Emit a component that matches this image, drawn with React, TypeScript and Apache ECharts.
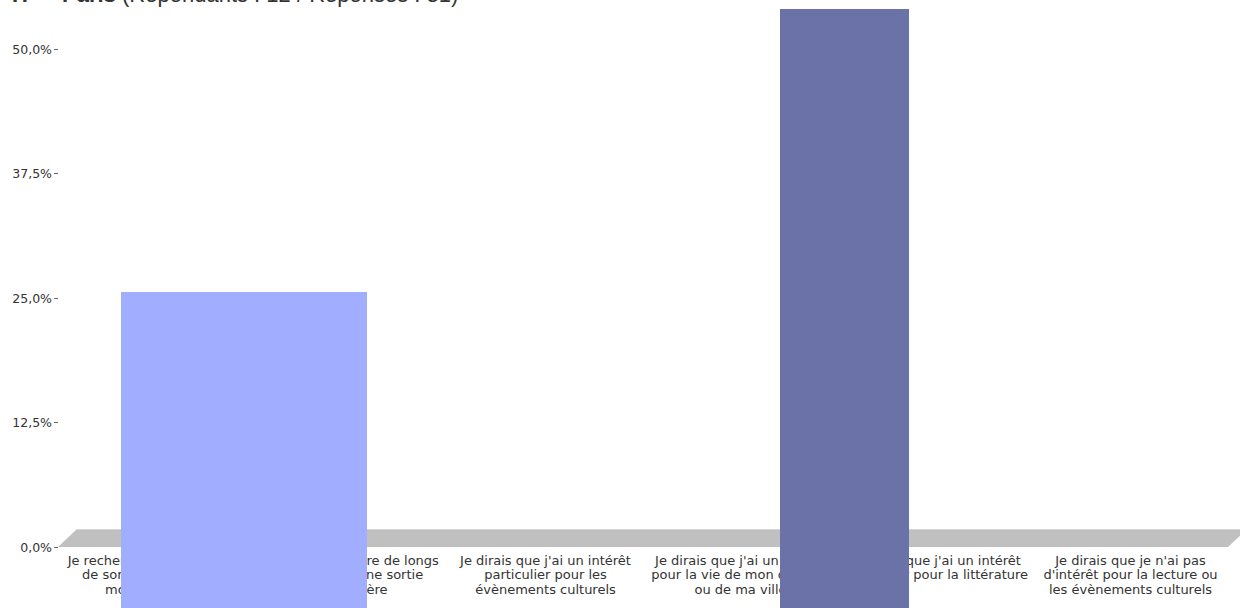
import React, { useEffect, useRef } from "react";
import * as echarts from "echarts";

const TITLE_MAIN = "H — Paris";
const TITLE_SUB = "(Répondants : 12 / Réponses : 31)";

const categories = [
  "Je recherche des occasions\nde sortie pendant mes\nmoments libres",
  "Je suis prêt à faire de longs\ntrajets pour une sortie\nparticulière",
  "Je dirais que j'ai un intérêt\nparticulier pour les\névènements culturels",
  "Je dirais que j'ai un intérêt\npour la vie de mon quartier\nou de ma ville",
  "Je dirais que j'ai un intérêt\nparticulier pour la littérature",
  "Je dirais que je n'ai pas\nd'intérêt pour la lecture ou\nles évènements culturels",
];

const values = [25.6, 0, 0, 54.0, 0, 0];

const yTicks = [0, 12.5, 25, 37.5, 50];

// style: horizontal span of each bar relative to its category centre, in band widths
const BAR_SPANS: [number, number][] = [
  [-0.177, 1.085],
  [0, 0],
  [0, 0],
  [0.203, 0.864],
  [0, 0],
  [0, 0],
];
const BAR_COLORS = ["#a1adff", "#a1adff", "#a1adff", "#6a72a8", "#6a72a8", "#6a72a8"];

export default function App() {
  const ref = useRef<HTMLDivElement>(null);
  useEffect(() => {
    if (!ref.current) return;
    const chart = echarts.init(ref.current, null, { renderer: "svg" });
    const gridLeft = 58;
    const gridRight = 12;
    const gridBottomY = 547;
    const depthX = 19;
    const depthY = 18;
    chart.setOption({
      animation: false,
      title: {
        text: "{b|" + TITLE_MAIN + "} " + TITLE_SUB,
        left: 12,
        top: -17,
        padding: 0,
        textStyle: {
          fontFamily: "Liberation Sans",
          fontSize: 22,
          fontWeight: "normal",
          color: "#333",
          rich: {
            b: { fontFamily: "Liberation Sans", fontSize: 22, fontWeight: "bold", color: "#333" },
          },
        },
      },
      graphic: [
        {
          type: "polygon",
          z: 0,
          shape: {
            points: [
              [gridLeft, gridBottomY],
              [1240 - gridRight, gridBottomY],
              [1240 - gridRight + depthX, gridBottomY - depthY],
              [gridLeft + depthX, gridBottomY - depthY],
            ],
          },
          style: { fill: "#c0c0c0" },
        },
        {
          type: "line",
          z: 0,
          shape: { x1: gridLeft + depthX, y1: gridBottomY - depthY + 0.5, x2: 1260, y2: gridBottomY - depthY + 0.5 },
          style: { stroke: "#d4d4d4", lineWidth: 1 },
        },
      ],
      grid: { left: gridLeft, right: gridRight, top: 49, bottom: 608 - gridBottomY, containLabel: false },
      xAxis: {
        type: "category",
        data: categories,
        axisLine: { show: false },
        axisTick: { show: false },
        splitLine: { show: false },
        axisLabel: {
          interval: 0,
          margin: 6,
          fontFamily: "DejaVu Sans",
          fontSize: 13,
          lineHeight: 14.5,
          color: "#333",
          align: "center",
        },
      },
      yAxis: {
        type: "value",
        min: 0,
        max: 50,
        interval: 12.5,
        axisLine: { show: false },
        axisTick: { show: true, length: 4, lineStyle: { color: "#666" } },
        splitLine: { show: false },
        axisLabel: {
          margin: 6,
          fontFamily: "DejaVu Sans",
          fontSize: 12.5,
          color: "#333",
          formatter: (v: number) =>
            yTicks.indexOf(v) >= 0 ? v.toFixed(1).replace(".", ",") + "%" : "",
        },
      },
      series: [
        {
          type: "custom",
          clip: false,
          z: 3,
          data: values.map((v, i) => [i, v]),
          encode: { x: 0, y: 1 },
          renderItem: (params: any, api: any) => {
            const idx = api.value(0);
            const v = api.value(1);
            if (!v) return null;
            const top = api.coord([idx, v]);
            const band = api.size([1, 0])[0];
            const span = BAR_SPANS[idx];
            const x0 = Math.round(top[0] + span[0] * band);
            const x1 = Math.round(top[0] + span[1] * band);
            const y0 = Math.round(top[1]);
            return {
              type: "rect",
              shape: { x: x0, y: y0, width: x1 - x0, height: api.getHeight() - y0 },
              style: { fill: BAR_COLORS[idx] },
            };
          },
        },
      ],
    });
    return () => chart.dispose();
  }, []);
  return (
    <div
      ref={ref}
      style={{ position: "fixed", left: 0, top: 0, width: 1240, height: 608, background: "#fff" }}
    />
  );
}
